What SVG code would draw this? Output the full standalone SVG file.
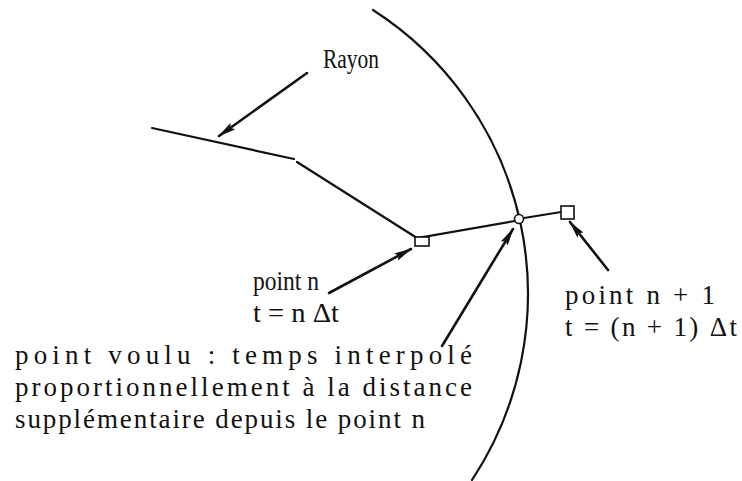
<svg xmlns="http://www.w3.org/2000/svg" width="742" height="481" viewBox="0 0 742 481">
<style>
.t{font-size:27px;fill:#111}
.ln{fill:none;stroke:#111;stroke-width:2.2;stroke-linecap:round}
.ar{fill:none;stroke:#111;stroke-width:2.6;stroke-linecap:round}
.mk{fill:#fff;stroke:#111;stroke-width:1.6}
</style>
<defs>
<marker id="ah" markerWidth="18" markerHeight="8" refX="17" refY="4" orient="auto" markerUnits="userSpaceOnUse">
<path d="M0,0 L18,4 L0,8 L3,4 Z" fill="#111"/>
</marker>
</defs>
<rect width="742" height="481" fill="#fff"/>
<g id="front">
<path class="ln" d="M373,10 A337.5,337.5 0 0 1 472,480"/>
</g>
<g id="ray">
<path class="ln" d="M152,128 L294,159"/>
<path class="ln" d="M297,162 L417,238 L515,221 M524,218 L561,212"/>
</g>
<g id="pointn">
<rect class="mk" x="415" y="237" width="14" height="9"/>
</g>
<g id="pointvoulu">
<circle class="mk" cx="519" cy="219" r="4.5"/>
</g>
<g id="pointn1">
<rect class="mk" x="561" y="206" width="13" height="13"/>
</g>
<g id="connectors">
<line class="ar" x1="307" y1="73" x2="219" y2="136" marker-end="url(#ah)"/>
<line class="ar" x1="329" y1="293" x2="411" y2="249" marker-end="url(#ah)"/>
<line class="ar" x1="442" y1="346" x2="513" y2="229" marker-end="url(#ah)"/>
<line class="ar" x1="608" y1="270" x2="570" y2="222" marker-end="url(#ah)"/>
</g>
<g id="labels" font-family="'Liberation Serif', 'DejaVu Serif', serif">
<text class="t" x="323" y="68" textLength="56" lengthAdjust="spacingAndGlyphs">Rayon</text>
<text class="t" x="253" y="290" textLength="66" lengthAdjust="spacingAndGlyphs">point n</text>
<text class="t" x="253" y="322" textLength="86" lengthAdjust="spacingAndGlyphs">t = n Δt</text>
<text class="t" x="565" y="304" textLength="150" lengthAdjust="spacing">point n + 1</text>
<text class="t" x="565" y="336" textLength="172" lengthAdjust="spacing">t = (n + 1)  Δt</text>
<text class="t" x="15" y="364" textLength="457" lengthAdjust="spacing">point voulu : temps interpolé</text>
<text class="t" x="15" y="396" textLength="457" lengthAdjust="spacing">proportionnellement à la distance</text>
<text class="t" x="15" y="428" textLength="410" lengthAdjust="spacing">supplémentaire depuis le point n</text>
</g>
</svg>
